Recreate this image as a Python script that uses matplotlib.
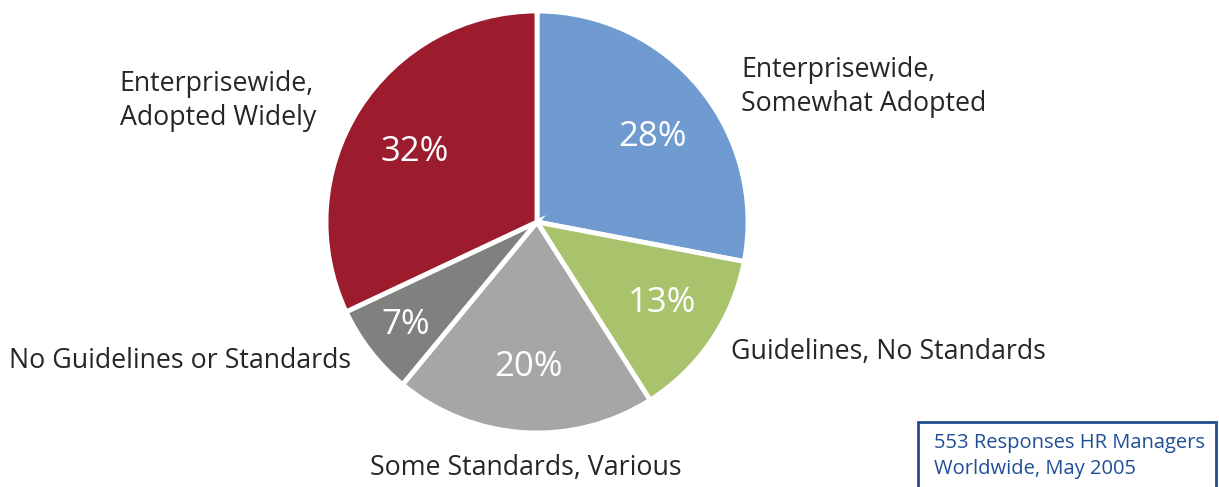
import matplotlib
matplotlib.use("Agg")
import matplotlib.pyplot as plt
from matplotlib.patches import Rectangle

plt.rcParams['font.family'] = ['Open Sans', 'DejaVu Sans']

categories = ["Enterprisewide,\nSomewhat Adopted", "Guidelines, No Standards",
              "Some Standards, Various", "No Guidelines or Standards",
              "Enterprisewide,\nAdopted Widely"]
values = [28, 13, 20, 7, 32]
pct_labels = ["28%", "13%", "20%", "7%", "32%"]
colors = ["#6f9bd0", "#a9c36c", "#a6a6a6", "#7f817f", "#9c1c2e"]

W, H = 1219, 487
fig = plt.figure(figsize=(W / 100, H / 100), dpi=100)

cx, cy, r = 537, 222, 211
ax = fig.add_axes([(cx - r) / W, (H - cy - r) / H, 2 * r / W, 2 * r / H])
wedges, _ = ax.pie(values, colors=colors, startangle=90, counterclock=False,
                   radius=1.0, wedgeprops=dict(edgecolor="white", linewidth=3.5))
ax.set_xlim(-1, 1)
ax.set_ylim(-1, 1)
ax.set_aspect("equal")
ax.axis("off")

def px(x, y):
    return x / W, 1 - y / H

# percentage labels
pct_pos = [(652, 137), (662, 303), (528, 367), (406, 325), (415, 152)]
for lab, (x, y) in zip(pct_labels, pct_pos):
    fig.text(*px(x, y), lab, color="white", fontsize=25, ha="center", va="center")

# category labels
lab_specs = [
    (741, 87, "left"),
    (731, 352, "left"),
    (526, 468, "center"),
    (351, 361, "right"),
    (316, 101, "right"),
]
for lab, (x, y, ha) in zip(categories, lab_specs):
    fig.text(*px(x, y), lab, color="#262626", fontsize=19.3, ha=ha, va="center",
             linespacing=1.32, multialignment="left")

# note box
box = Rectangle(px(918, 490), (1216 - 918) / W, (490 - 422) / H,
                transform=fig.transFigure, facecolor="white",
                edgecolor="#1f4e8c", linewidth=2, clip_on=False)
fig.patches.append(box)
fig.text(*px(934, 456), "553 Responses HR Managers\nWorldwide, May 2005",
         color="#1f4e96", fontsize=14.5, ha="left", va="center", linespacing=1.35)

fig.savefig("out.png", dpi=100)
